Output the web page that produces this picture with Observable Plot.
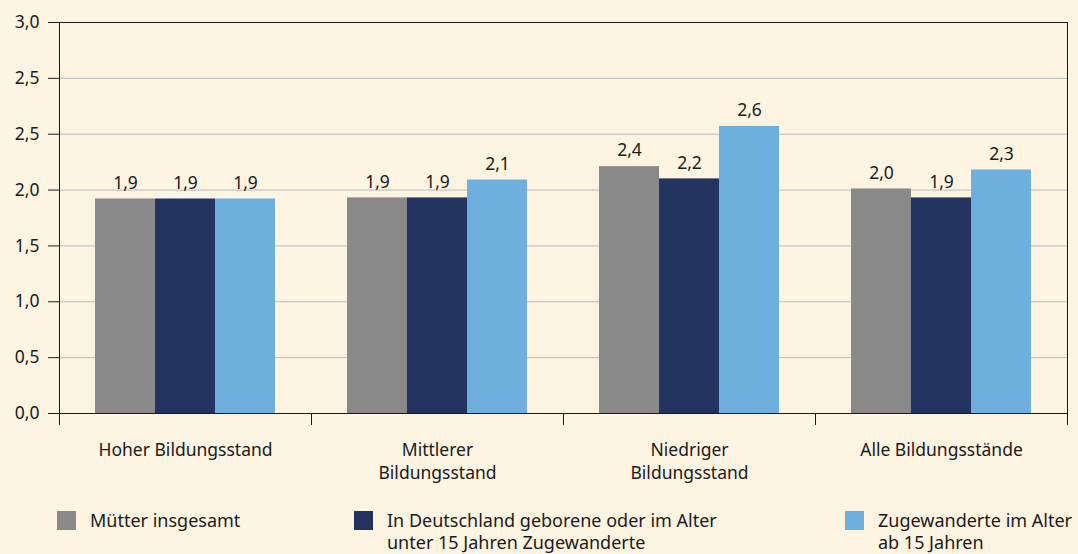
<!DOCTYPE html>
<html><head><meta charset="utf-8">
<script src="https://cdn.jsdelivr.net/npm/d3@7"></script>
<script src="https://cdn.jsdelivr.net/npm/@observablehq/plot@0.6"></script>
<style>
body{margin:0;background:#fef4e2;font-family:"Noto Sans",sans-serif;}
#chart svg{display:block;}
#legend{position:relative;height:54px;font-size:18px;color:#1a1a1a;line-height:22px;}
.item{position:absolute;top:9px;display:flex;align-items:flex-start;}
.sw{width:19px;height:19px;margin-top:2px;margin-right:14px;flex:none;}
</style></head><body>
<div id="chart"></div><div id="legend"></div>
<script>
const categories = ["Hoher Bildungsstand", "Mittlerer\nBildungsstand", "Niedriger\nBildungsstand", "Alle Bildungsstände"];
const series = ["Mütter insgesamt", "In Deutschland geborene oder im Alter\nunter 15 Jahren Zugewanderte", "Zugewanderte im Alter\nab 15 Jahren"];
const colors = ["#898989", "#233461", "#6fafdd"];
const muetter = [1.92, 1.93, 2.21, 2.01];
const deutschland = [1.92, 1.93, 2.10, 1.93];
const zugewandert = [1.92, 2.09, 2.57, 2.18];
const labelsMuetter = ["1,9", "1,9", "2,4", "2,0"];
const labelsDeutschland = ["1,9", "1,9", "2,2", "1,9"];
const labelsZugewandert = ["1,9", "2,1", "2,6", "2,3"];
const yTicks = [0, 0.5, 1, 1.5, 2, 2.5, 3, 3.5];
const yTickLabels = ["0,0", "0,5", "1,0", "1,5", "2,0", "2,5", "2,5", "3,0"];

const values = [muetter, deutschland, zugewandert];
const labels = [labelsMuetter, labelsDeutschland, labelsZugewandert];
const rows = [];
categories.forEach((c, i) => series.forEach((s, j) => rows.push({cat: c, series: s, value: values[j][i], label: labels[j][i]})));

const W = 1078, H = 500, mT = 22, mB = 87;
const plotH = H - mT - mB;
const ink = "#1a1a1a";
const font = "'Noto Sans', sans-serif";
const fs = 17.5;

const chart = Plot.plot({
  width: W, height: H, marginTop: mT, marginBottom: mB, marginLeft: 57, marginRight: 10,
  style: {background: "transparent", fontFamily: font, fontSize: fs + "px", color: ink},
  fx: {domain: categories, paddingInner: 0, paddingOuter: 0, axis: null, label: null},
  x: {domain: series, paddingInner: 0, paddingOuter: 0.57, axis: null},
  y: {domain: [0, 3.5], axis: null, label: null},
  color: {domain: series, range: colors},
  marks: [
    Plot.gridY(yTicks, {stroke: "#b5b9c3", strokeOpacity: 1}),
    Plot.barY(rows, {fx: "cat", x: "series", y: "value", fill: "series"}),
    Plot.text(rows, {fx: "cat", x: "series", y: "value", text: "label", dy: -16, fill: ink, fontSize: fs}),
    Plot.frame({facet: "super", stroke: ink}),
    Plot.frame({anchor: "left", insetTop: plotH, insetBottom: -11, stroke: ink}),
    Plot.frame({anchor: "right", insetTop: plotH, insetBottom: -11, stroke: ink}),
    Plot.axisY(yTicks, {label: null, tickFormat: d => yTickLabels[yTicks.indexOf(d)], tickSize: 11, tickPadding: 9, stroke: ink, fill: ink, fontSize: fs}),
    Plot.text(categories, {fx: d => d, text: d => d, frameAnchor: "bottom", lineAnchor: "top", dy: 25, lineHeight: 1.37, fill: ink, fontSize: fs})
  ]
});
document.getElementById("chart").appendChild(chart);

const lefts = [57, 354, 845];
const legend = document.getElementById("legend");
series.forEach((s, j) => {
  const it = document.createElement("div");
  it.className = "item";
  it.style.left = lefts[j] + "px";
  const sw = document.createElement("div");
  sw.className = "sw";
  sw.style.background = colors[j];
  const tx = document.createElement("div");
  tx.style.whiteSpace = "pre";
  tx.textContent = s;
  it.appendChild(sw); it.appendChild(tx);
  legend.appendChild(it);
});
</script>
</body></html>
